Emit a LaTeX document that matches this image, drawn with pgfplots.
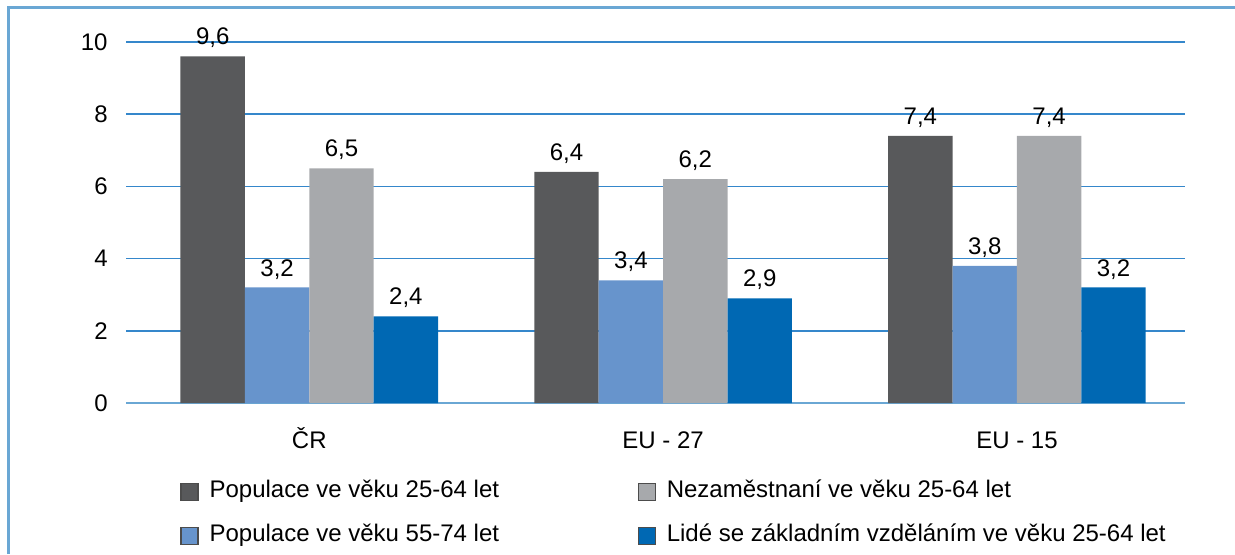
\documentclass[border=0pt]{standalone}
\usepackage{fontspec}
\setmainfont{Liberation Sans}
\usepackage{pgfplots}
\pgfplotsset{compat=1.18}
\definecolor{cdark}{HTML}{58595B}
\definecolor{cmid}{HTML}{6794CC}
\definecolor{clight}{HTML}{A7A9AC}
\definecolor{cblue}{HTML}{0068B3}
\definecolor{cgrid}{HTML}{3587CB}
\definecolor{cframe}{HTML}{6AA7D4}
\newcommand\f{\fontsize{12pt}{14pt}\selectfont}
\begin{document}
\f
\begin{tikzpicture}[font=\f]
\useasboundingbox (0,0) rectangle (617.5pt,277pt);
\draw[cframe, line width=1.2pt] (4.25pt,0) -- (4.25pt,273.25pt) -- (617.5pt,273.25pt);
\begin{axis}[
  at={(63pt,75.5pt)}, anchor=south west,
  scale only axis, width=529.5pt, height=180.5pt,
  ybar=0pt, bar width=0.182,
  xmin=-0.518, xmax=2.475, ymin=0, ymax=10,
  xtick={0,1,2}, xticklabels={ČR,EU - 27,EU - 15},
  ytick={0,2,4,6,8,10},
  axis x line*=bottom, axis y line*=left,
  x axis line style={cframe, line width=1pt, -},
  y axis line style={draw=none},
  major tick length=0pt,
  ymajorgrids, grid style={cgrid, line width=0.8pt},
  xticklabel style={anchor=base, yshift=-22.5pt, font=\f},
  yticklabel style={anchor=east, inner sep=0pt, xshift=-9pt, font=\f},
  /pgf/number format/assume math mode=true,
  clip=false,
  nodes near coords,
  nodes near coords style={font=\f, /pgf/number format/.cd, use comma, fixed, fixed zerofill, precision=1, assume math mode=true},
  legend image code/.code={\draw[#1, draw=black!70, line width=0.6pt] (0pt,-4.25pt) rectangle (8.5pt,4.25pt);},
  legend columns=2,
  legend style={draw=none, fill=none, inner sep=0pt, at={(0.051,-0.212)}, anchor=north west,
    column sep=5.5pt, row sep=10pt, font=\f,
    nodes={inner sep=0pt, text height=9pt, text depth=3pt}},
  legend cell align=left,
  transpose legend,
]
\addplot[fill=cdark, draw=none] coordinates {(0,9.6) (1,6.4) (2,7.4)};
\addplot[fill=cmid, draw=none] coordinates {(0,3.2) (1,3.4) (2,3.8)};
\addplot[fill=clight, draw=none] coordinates {(0,6.5) (1,6.2) (2,7.4)};
\addplot[fill=cblue, draw=none] coordinates {(0,2.4) (1,2.9) (2,3.2)};
\legend{\makebox[208.5pt][l]{Populace ve věku 25-64 let},\makebox[208.5pt][l]{Populace ve věku 55-74 let},Nezaměstnaní ve věku 25-64 let,Lidé se základním vzděláním ve věku 25-64 let}
\end{axis}
\end{tikzpicture}
\end{document}
